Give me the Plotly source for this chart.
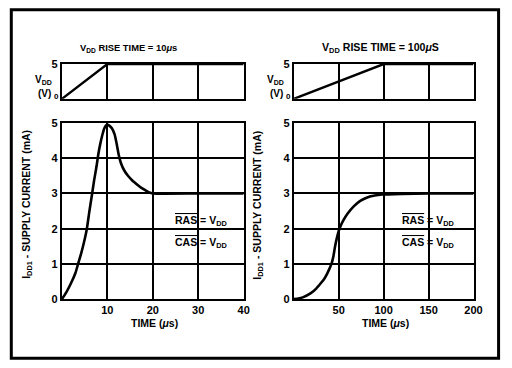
import plotly.graph_objects as go

W, H = 512, 368

# Supply voltage ramps (V) for the two rise times
vdd_t_fast = [0, 10, 40]
vdd_v_fast = [0, 5, 5]
vdd_t_slow = [0, 100, 200]
vdd_v_slow = [0, 5, 5]

# IDD1 supply current (mA) vs time (us), 10 us rise time
t_fast = [0, 1, 2, 3, 3.5, 4.2, 4.8, 5.5, 6.0, 6.6, 7.1, 7.6, 8.0, 8.4, 8.9, 9.3, 9.7, 10.0,
          10.5, 11.0, 11.6, 12.0, 12.5, 13.0, 13.7, 14.5, 15.5, 16.6, 17.5, 18.4, 19.2, 20, 30, 40]
i_fast = [0, 0.2, 0.45, 0.75, 0.97, 1.28, 1.58, 2.0, 2.45, 2.95, 3.38, 3.75, 4.1, 4.38, 4.66, 4.84, 4.93, 4.95,
          4.92, 4.85, 4.68, 4.45, 4.1, 3.86, 3.66, 3.51, 3.37, 3.25, 3.16, 3.09, 3.03, 3.0, 3.0, 3.0]

# IDD1 supply current (mA) vs time (us), 100 us rise time
t_slow = [0, 10, 19, 25, 30, 34, 37.5, 40, 42, 44, 46, 48, 50, 52, 55, 60, 67, 74, 81, 90, 98, 120, 150, 200]
i_slow = [0, 0.05, 0.17, 0.3, 0.45, 0.58, 0.74, 0.88, 1.0, 1.2, 1.5, 1.74, 1.93, 2.07, 2.23, 2.43, 2.64,
          2.79, 2.88, 2.94, 2.97, 2.99, 3.0, 3.0]

x_ticks_fast = [10, 20, 30, 40]
x_ticks_slow = [50, 100, 150, 200]
y_ticks = [0, 1, 2, 3, 4, 5]

FONT = "Liberation Sans"


def px_x(p):
    return p / W


def px_y(p):
    return 1 - p / H


fig = go.Figure()

curve = dict(color="black", width=2.6, shape="spline", smoothing=0.5)
ramp = dict(color="black", width=2.4)
fig.add_trace(go.Scatter(x=vdd_t_fast, y=vdd_v_fast, mode="lines", line=ramp, xaxis="x", yaxis="y"))
fig.add_trace(go.Scatter(x=t_fast, y=i_fast, mode="lines", line=curve, xaxis="x2", yaxis="y2"))
fig.add_trace(go.Scatter(x=vdd_t_slow, y=vdd_v_slow, mode="lines", line=ramp, xaxis="x3", yaxis="y3"))
fig.add_trace(go.Scatter(x=t_slow, y=i_slow, mode="lines", line=curve, xaxis="x4", yaxis="y4"))

tickfont = dict(family=FONT, size=11, color="black", weight="bold")
axis_common = dict(
    showline=True, linecolor="black", linewidth=2, mirror=True,
    showgrid=True, gridcolor="black", gridwidth=2,
    zeroline=False, ticks="", tickfont=tickfont, fixedrange=True,
)

left_x = [px_x(63), px_x(248)]
right_x = [px_x(299), px_x(482)]
top_y = [px_y(96), px_y(60)]
main_y = [px_y(303), px_y(121)]

layout = dict(
    width=W, height=H,
    margin=dict(l=0, r=0, t=0, b=0),
    paper_bgcolor="white", plot_bgcolor="white",
    showlegend=False,
    font=dict(family=FONT, color="black"),
    # top-left: VDD ramp, 10 us
    xaxis=dict(axis_common, domain=left_x, range=[0, 40], tickvals=[10, 20, 30], showticklabels=False, anchor="y"),
    yaxis=dict(axis_common, domain=top_y, range=[0, 5], tickvals=[5], ticktext=["5"], showgrid=False, anchor="x"),
    # bottom-left: IDD1, 10 us
    xaxis2=dict(axis_common, domain=left_x, range=[0, 40], tickvals=x_ticks_fast, anchor="y2"),
    yaxis2=dict(axis_common, domain=main_y, range=[0, 5], tickvals=y_ticks, anchor="x2"),
    # top-right: VDD ramp, 100 us
    xaxis3=dict(axis_common, domain=right_x, range=[0, 200], tickvals=[50, 100, 150], showticklabels=False, anchor="y3"),
    yaxis3=dict(axis_common, domain=top_y, range=[0, 5], tickvals=[5], ticktext=["5"], showgrid=False, anchor="x3"),
    # bottom-right: IDD1, 100 us
    xaxis4=dict(axis_common, domain=right_x, range=[0, 200], tickvals=x_ticks_slow, anchor="y4"),
    yaxis4=dict(axis_common, domain=main_y, range=[0, 5], tickvals=y_ticks, anchor="x4"),
)
fig.update_layout(**layout)


def label(text, x, y, size=11, xanchor="center", angle=0):
    fig.add_annotation(
        text=text, x=px_x(x), y=px_y(y), xref="paper", yref="paper",
        showarrow=False, xanchor=xanchor, yanchor="middle", textangle=angle,
        font=dict(family=FONT, color="black", weight="bold", size=size),
    )


# panel titles
label("V<sub>DD</sub> RISE TIME = 10<i>\u03bc</i>s", 131, 43, size=9.4)
label("V<sub>DD</sub> RISE TIME = 100<i>\u03bc</i>S", 387, 43, size=10.6)

# small VDD axis labels of the ramp panels
for x0 in (63, 299):
    label("V<sub>DD</sub>", x0 - 8, 77, size=10, xanchor="right")
    label("(V)", x0 - 9, 90, size=10, xanchor="right")
    label("0", x0 - 1, 94, size=8, xanchor="right")

# y-axis titles
label("I<sub>DD1</sub> - SUPPLY CURRENT (mA)", 28, 205, size=10.5, angle=-90)
label("I<sub>DD1</sub> - SUPPLY CURRENT (mA)", 263, 206, size=10.5, angle=-90)

# x-axis titles
label("TIME (<i>\u03bc</i>s)", 157, 328, size=10.5)
label("TIME (<i>\u03bc</i>s)", 392, 328, size=10.5)

# bias conditions
for x0 in (176, 407):
    label("<span style='text-decoration:overline'>RAS</span> = V<sub>DD</sub>", x0, 222, size=10.5, xanchor="left")
    label("<span style='text-decoration:overline'>CAS</span> = V<sub>DD</sub>", x0, 245, size=10.5, xanchor="left")

# outer frame
fig.add_shape(type="rect", xref="paper", yref="paper",
              x0=px_x(11.5), x1=px_x(507.5), y0=px_y(364), y1=px_y(4),
              line=dict(color="black", width=3), fillcolor="rgba(0,0,0,0)")

fig.write_html("out.html", config=dict(displayModeBar=False, staticPlot=True))
